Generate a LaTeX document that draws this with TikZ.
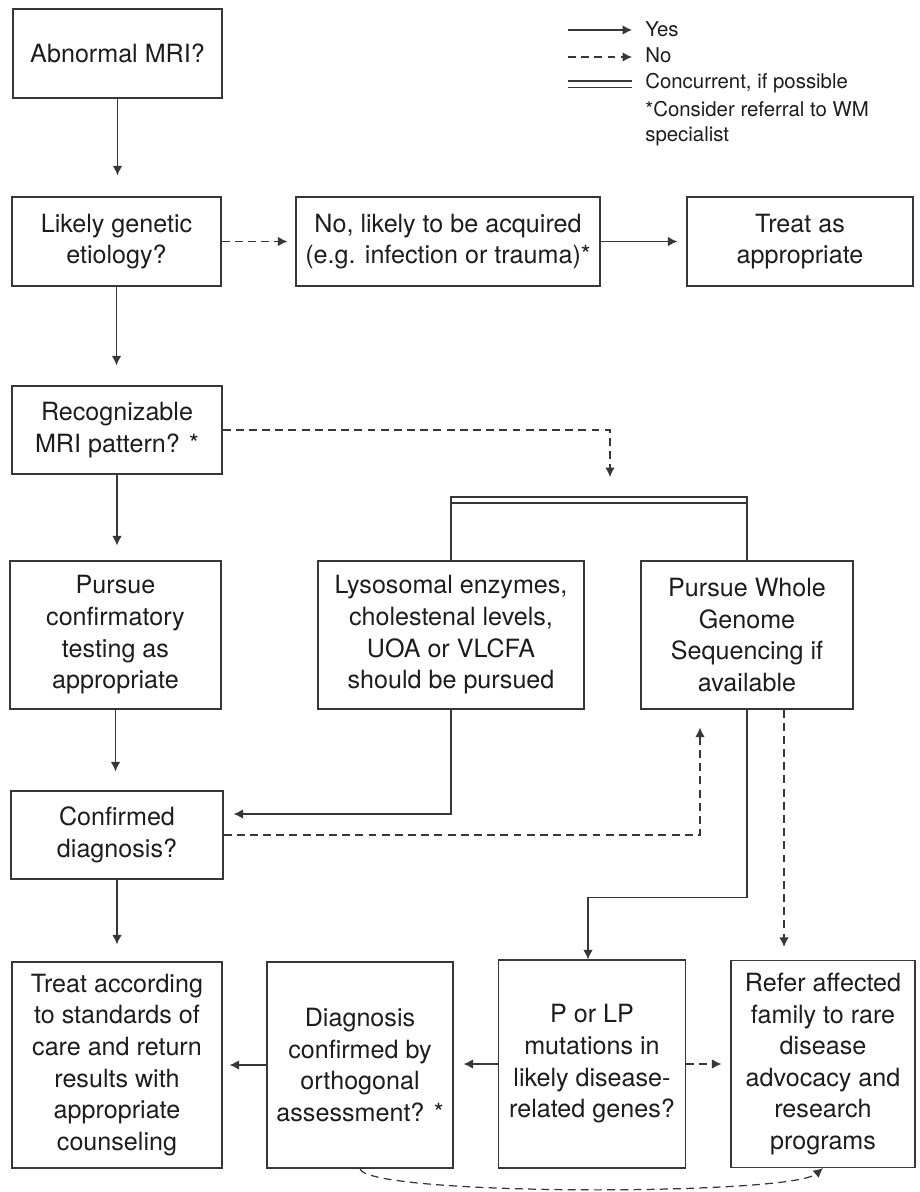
\documentclass[tikz,border=0pt]{standalone}
\usepackage{fontspec}
\setmainfont{TeX Gyre Heros}
\usetikzlibrary{arrows.meta}
\definecolor{ink}{RGB}{30,28,28}
\definecolor{rule}{RGB}{55,55,55}
\newcommand{\boxfont}{\fontsize{14.3}{18}\selectfont}
\newcommand{\keyfont}{\fontsize{11.6}{14}\selectfont}
\newcommand{\flowbox}[5]{\node[box, minimum width=#3cm, minimum height=#4cm] (#1) at (#2) {#5};}
\newcommand{\drawyes}{\draw[yes]}
\newcommand{\drawno}{\draw[no]}
\tikzset{
  box/.style={draw=rule, line width=0.7pt, text=ink, align=center, inner sep=0pt, font=\boxfont},
  plain/.style={draw=rule, line width=0.7pt},
  yes/.style={plain, -{Latex[length=1.9mm,width=1.9mm]}},
  no/.style={yes, dash pattern=on 4.5pt off 3pt},
  key/.style={text=ink, font=\keyfont, inner sep=0pt, anchor=base west}
}

\begin{document}
\begin{tikzpicture}[x=0.02cm, y=-0.02cm]
\useasboundingbox (0,0) rectangle (919,1192);
\flowbox{mri}{117.5,53.5}{4.18}{1.78}{Abnormal MRI?}
\flowbox{genetic}{116.5,241.5}{4.18}{1.78}{Likely genetic\\etiology?}
\flowbox{acquired}{448,241.5}{6.08}{1.78}{No, likely to be acquired\\(e.g. infection or trauma)*}
\flowbox{treatapp}{800,241.5}{4.52}{1.78}{Treat as\\appropriate}
\flowbox{pattern}{117,430}{4.2}{1.76}{Recognizable\\MRI pattern? *}
\flowbox{confirm}{115.5,635}{4.22}{2.96}{Pursue\\confirmatory\\testing as\\appropriate}
\flowbox{lyso}{451,635}{5.32}{2.96}{Lysosomal enzymes,\\cholestenal levels,\\UOA or VLCFA\\should be pursued}
\flowbox{wgs}{747,635}{4.24}{2.96}{Pursue Whole\\Genome\\Sequencing if\\available}
\flowbox{diag}{117,835}{4.24}{1.76}{Confirmed\\diagnosis?}
\flowbox{treatstd}{117,1065}{4.2}{4.12}{Treat according\\to standards of\\care and return\\results with\\appropriate\\counseling}
\flowbox{ortho}{360,1065}{3.72}{4.12}{Diagnosis\\confirmed by\\orthogonal\\assessment? *}
\flowbox{plp}{592,1064}{3.74}{4.16}{P or LP\\mutations in\\likely disease-\\related genes?}
\flowbox{refer}{823,1064}{3.68}{4.14}{Refer affected\\family to rare\\disease\\advocacy and\\research\\programs}
\coordinate (bar) at (610,497);
\drawyes[shorten >=0.42cm] (mri.south) -- (mri.south |- genetic.north);
\drawno[shorten >=0.16cm] (genetic.east) -- (acquired.west);
\drawyes[shorten >=0.18cm] (acquired.east) -- (treatapp.west);
\drawyes[shorten >=0.4cm] (genetic.south) -- (genetic.south |- pattern.north);
\drawno[shorten >=0.4cm] (pattern.east) -| (bar);
\draw[plain] (lyso.north) |- (bar) -| (wgs.north);
\draw[plain] ([yshift=-0.12cm]lyso.north |- bar) -- ([yshift=-0.12cm]wgs.north |- bar);
\drawyes[shorten >=0.3cm] (pattern.south) -- (pattern.south |- confirm.north);
\drawyes[shorten >=0.38cm] (confirm.south) -- (confirm.south |- diag.north);
\drawyes[shorten >=0.2cm] (lyso.south) |- ([yshift=0.42cm]diag.east);
\drawno[shorten >=0.36cm] (diag.east) -| ([xshift=-0.94cm]wgs.south);
\drawyes (wgs.south) -- ++(0,188) -| ([xshift=-0.08cm]plp.north);
\drawno[shorten >=0.26cm] ([xshift=0.74cm]wgs.south) -- ([xshift=0.74cm]wgs.south |- refer.north);
\drawyes[shorten >=0.34cm] (diag.south) -- (diag.south |- treatstd.north);
\drawyes[shorten >=0.14cm] (ortho.west) -- (ortho.west -| treatstd.east);
\drawyes[shorten >=0.2cm] (plp.west) -- (plp.west -| ortho.east);
\drawno[shorten >=0.18cm] (plp.east) -- (plp.east -| refer.west);
\drawno (ortho.south) .. controls (365,1196) and (790,1196) .. (refer.south);
\node[key] (kyes) at (645,37) {Yes};
\node[key] (kno) at (645,63) {No};
\node[key] (kconc) at (645,89) {Concurrent, if possible};
\node[key, align=left, anchor=north west] (knote) at (645,101) {*Consider referral to WM\\specialist};
\coordinate (lyes) at (568,30);
\coordinate (lno) at (568,57);
\coordinate (lconc) at (568,81);
\drawyes[shorten >=0.26cm] (lyes) -- (lyes -| kyes.west);
\drawno[shorten >=0.26cm] (lno) -- (lno -| kno.west);
\draw[plain] (lconc) -- ([xshift=-0.26cm]lconc -| kconc.west);
\draw[plain] ([yshift=-0.13cm]lconc) -- ([yshift=-0.13cm,xshift=-0.26cm]lconc -| kconc.west);
\end{tikzpicture}
\end{document}
